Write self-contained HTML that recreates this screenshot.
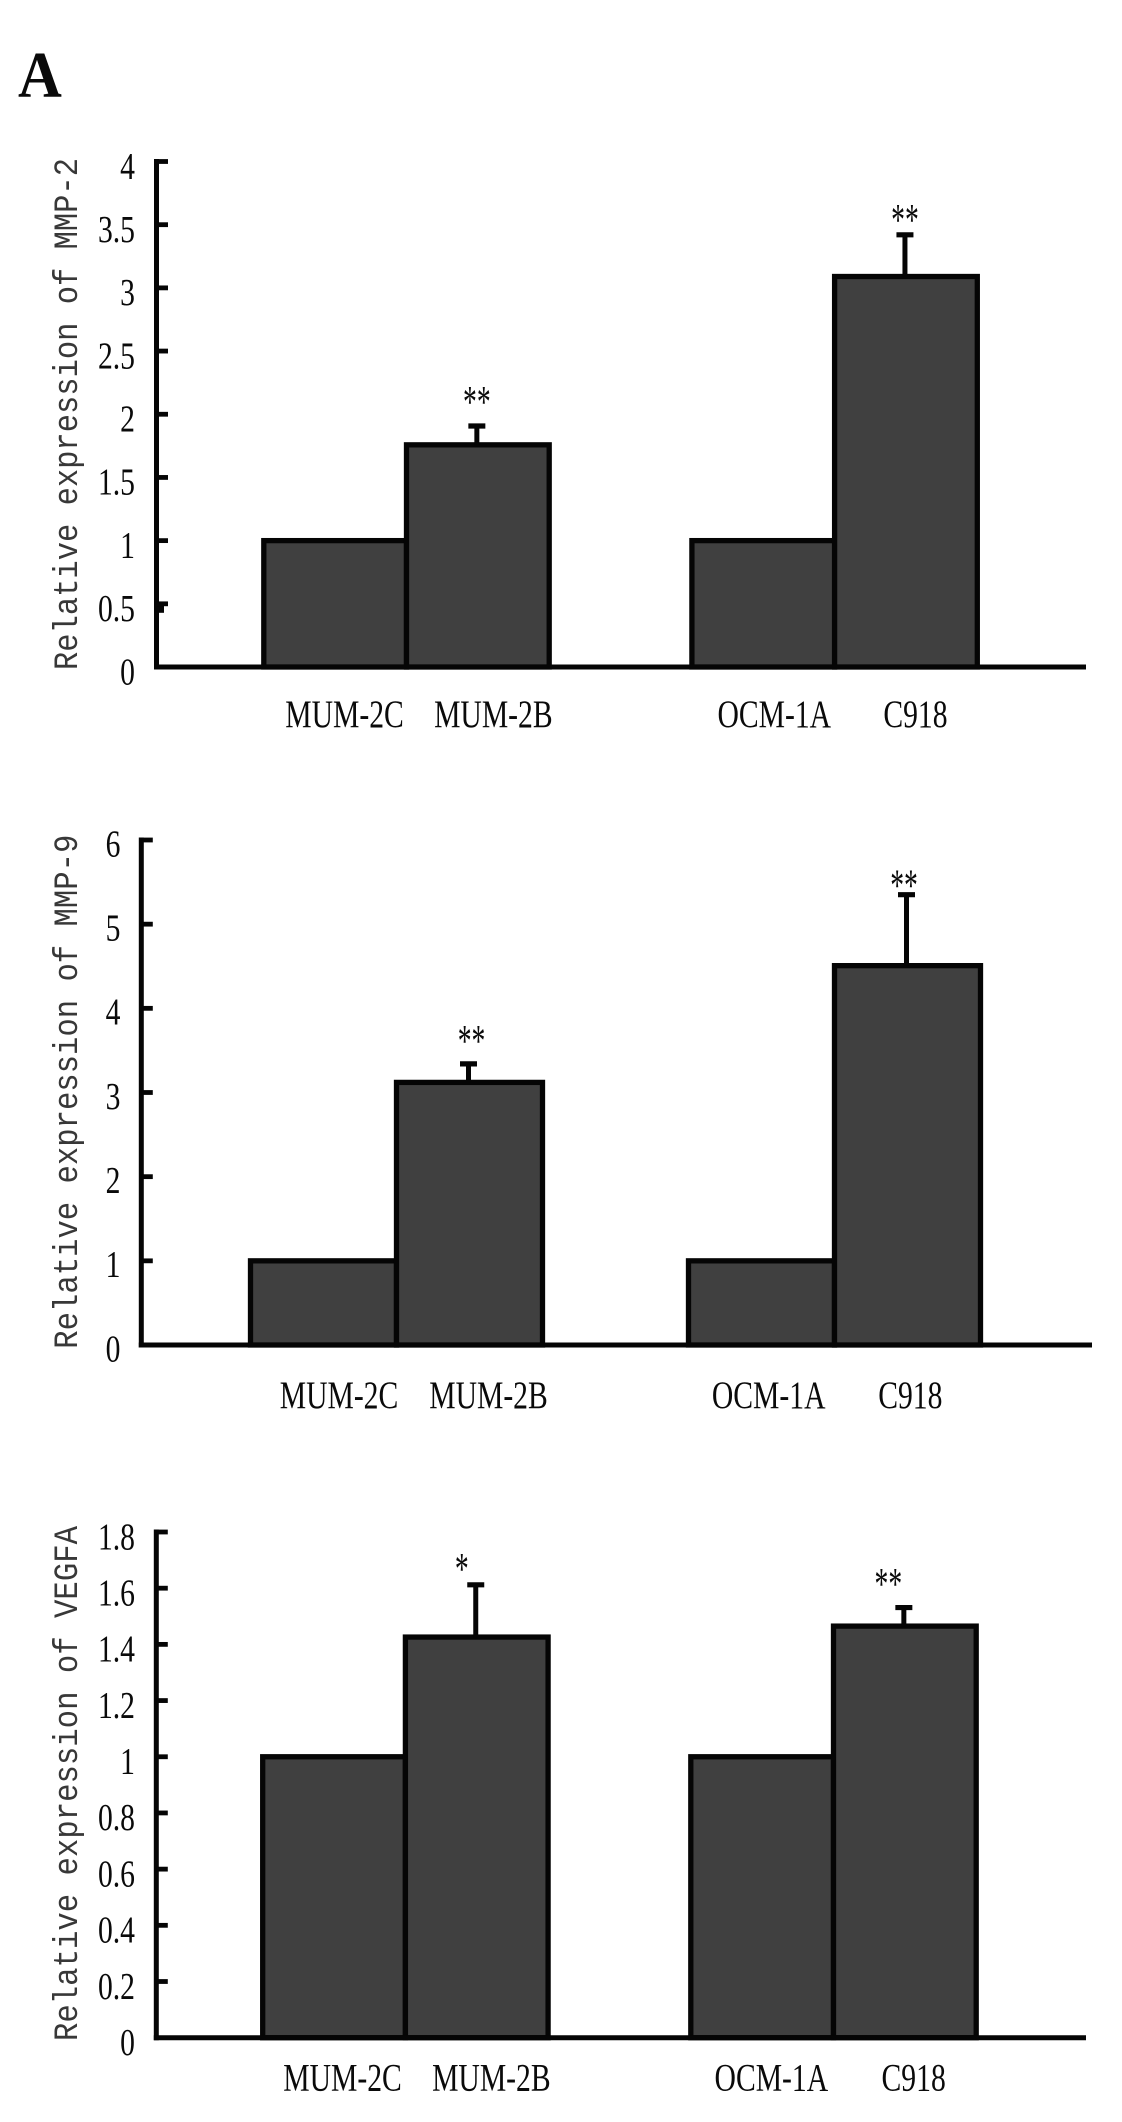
<!DOCTYPE html>
<html lang="en">
<head>
<meta charset="utf-8">
<title>Relative expression of MMP-2, MMP-9 and VEGFA</title>
<style>
  html, body { margin: 0; padding: 0; background: #fff; }
  svg { display: block; }
  .serif { font-family: "Liberation Serif", serif; fill: #0a0a0a; }
  .mono { font-family: "Liberation Mono", monospace; fill: #383838; }
</style>
</head>
<body>
<svg id="figure" xmlns="http://www.w3.org/2000/svg" width="1122" height="2122" viewBox="0 0 1122 2122">
  <rect width="1122" height="2122" fill="#ffffff"/>
  <text class="serif" font-weight="bold" font-size="66" transform="translate(18 97) scale(0.92 1)">A</text>
</svg>
<script>
// ---- chart data ----
const categories = ['MUM-2C', 'MUM-2B', 'OCM-1A', 'C918'];

const mmp2Title = 'Relative expression of MMP-2';
const mmp2Ticks = ['0', '0.5', '1', '1.5', '2', '2.5', '3', '3.5', '4'];
const mmp2Values = [1, 1.758, 1, 3.09];
const mmp2ErrorTops = [null, 1.907, null, 3.42];
const mmp2Significance = ['', '**', '', '**'];

const mmp9Title = 'Relative expression of MMP-9';
const mmp9Ticks = ['0', '1', '2', '3', '4', '5', '6'];
const mmp9Values = [1, 3.12, 1, 4.507];
const mmp9ErrorTops = [null, 3.34, null, 5.35];
const mmp9Significance = ['', '**', '', '**'];

const vegfaTitle = 'Relative expression of VEGFA';
const vegfaTicks = ['0', '0.2', '0.4', '0.6', '0.8', '1', '1.2', '1.4', '1.6', '1.8'];
const vegfaValues = [1, 1.426, 1, 1.465];
const vegfaErrorTops = [null, 1.612, null, 1.531];
const vegfaSignificance = ['', '*', '', '**'];

// ---- drawing ----
const SVG_NS = 'http://www.w3.org/2000/svg';
const figure = document.getElementById('figure');
const INK = '#050505';
const BAR_FILL = '#404040';
// Bars occupy slots 0,1 and 3,4 of five equal bands; slot 2 is the gap between groups.
const slotOf = [0, 1, 3, 4];

function drawLine(parent, x1, y1, x2, y2, width) {
  const line = document.createElementNS(SVG_NS, 'line');
  line.setAttribute('x1', x1);
  line.setAttribute('y1', y1);
  line.setAttribute('x2', x2);
  line.setAttribute('y2', y2);
  line.setAttribute('stroke', INK);
  line.setAttribute('stroke-width', width);
  parent.appendChild(line);
  return line;
}

function drawSerifText(parent, content, x, y, anchor, size, xScale) {
  const text = document.createElementNS(SVG_NS, 'text');
  text.setAttribute('class', 'serif');
  text.setAttribute('font-size', size);
  text.setAttribute('text-anchor', anchor);
  text.setAttribute('transform', 'translate(' + x + ' ' + y + ') scale(' + xScale + ' 1)');
  text.textContent = content;
  parent.appendChild(text);
  return text;
}

function drawPanel(name, title, ticks, values, errorTops, significance, layout) {
  const maxTick = parseFloat(ticks[ticks.length - 1]);
  const yScale = function (v) {
    return layout.baseY - (v / maxTick) * (layout.baseY - layout.topY);
  };
  const xLeft = function (i) {
    return layout.firstBarX + slotOf[i] * layout.band;
  };
  const xCenter = function (i) {
    return xLeft(i) + layout.band / 2;
  };

  const group = document.createElementNS(SVG_NS, 'g');
  
  
  figure.appendChild(group);

  // bars
  values.forEach(function (value, i) {
    const bar = document.createElementNS(SVG_NS, 'rect');
    
    
    bar.setAttribute('x', xLeft(i));
    bar.setAttribute('y', yScale(value));
    bar.setAttribute('width', layout.band);
    bar.setAttribute('height', layout.baseY - yScale(value));
    bar.setAttribute('fill', BAR_FILL);
    bar.setAttribute('stroke', INK);
    bar.setAttribute('stroke-width', '5.3');
    group.appendChild(bar);
  });

  // error bars and significance marks
  errorTops.forEach(function (top, i) {
    if (top === null) return;
    const stem = drawLine(group, xCenter(i) - 1, yScale(values[i]), xCenter(i) - 1, yScale(top), 5);
    
    
    const cap = drawLine(group, xCenter(i) - 9.5, yScale(top), xCenter(i) + 7.5, yScale(top), 5.2);
    
    
    const mark = drawSerifText(group, significance[i], xCenter(i) + layout.starDx[i], yScale(top) - layout.starGap[i], 'middle', 46, 0.6);
    
    
  });

  // axes
  const yAxis = drawLine(group, layout.axisX, layout.topY - 2.5, layout.axisX, layout.baseY + 2.5, 5);
  
  
  const xAxis = drawLine(group, layout.axisX - 2.5, layout.baseY, layout.axisEndX, layout.baseY, 5);
  
  

  // y ticks and tick labels
  ticks.forEach(function (label) {
    const y = yScale(parseFloat(label));
    if (parseFloat(label) > 0) {
      const tick = drawLine(group, layout.axisX, y, layout.axisX + 11.5, y, 4.8);
      
      
    }
    const tickLabel = drawSerifText(group, label, layout.tickLabelX, y + layout.tickLabelDy, 'end', 38, 0.78);
    
    
  });

  // x category labels
  categories.forEach(function (label, i) {
    const catLabel = drawSerifText(group, label, xCenter(i) + layout.labelDx[i], layout.labelY, 'middle', 39, 0.76);
    
    
  });

  // rotated y-axis title
  const axisTitle = document.createElementNS(SVG_NS, 'text');
  
  
  axisTitle.setAttribute('class', 'mono');
  axisTitle.setAttribute('font-size', '34');
  axisTitle.setAttribute('textLength', layout.titleLength);
  axisTitle.setAttribute('lengthAdjust', 'spacingAndGlyphs');
  axisTitle.setAttribute('transform', 'translate(77 ' + layout.titleY + ') rotate(-90)');
  axisTitle.textContent = title;
  group.appendChild(axisTitle);

  return { group: group, yScale: yScale };
}

const mmp2Panel = drawPanel('mmp2', mmp2Title, mmp2Ticks, mmp2Values, mmp2ErrorTops, mmp2Significance, {
  axisX: 156.5, axisEndX: 1086, topY: 161.5, baseY: 667,
  firstBarX: 263.8, band: 142.7, tickLabelX: 135, tickLabelDy: 17.3, labelY: 727,
  labelDx: [9.4, 15.5, 11, 9.5], starDx: [0, -1, 0, -1], starGap: [0, 9, 0, 0],
  titleY: 670, titleLength: 512
});
// small stray mark printed under the 0.5 tick of the top panel
const strayMark = drawLine(mmp2Panel.group, 161.5, mmp2Panel.yScale(0.5), 161.5, mmp2Panel.yScale(0.5) + 9, 5);



drawPanel('mmp9', mmp9Title, mmp9Ticks, mmp9Values, mmp9ErrorTops, mmp9Significance, {
  axisX: 141.3, axisEndX: 1092, topY: 840, baseY: 1345,
  firstBarX: 250.5, band: 146, tickLabelX: 120.5, tickLabelDy: 16.3, labelY: 1408,
  labelDx: [15.5, 19, 7.2, 2.8], starDx: [0, 2, 0, -3.5], starGap: [0, 8, 0, -6],
  titleY: 1348.7, titleLength: 514
});

drawPanel('vegfa', vegfaTitle, vegfaTicks, vegfaValues, vegfaErrorTops, vegfaSignificance, {
  axisX: 156.3, axisEndX: 1086, topY: 1532, baseY: 2037.7,
  firstBarX: 262.7, band: 142.7, tickLabelX: 135, tickLabelDy: 17.3, labelY: 2090.5,
  labelDx: [8.5, 14.6, 9.2, 8.8], starDx: [0, -15, 0, -16.5], starGap: [0, 1, 0, 8.5],
  titleY: 2041, titleLength: 515
});
</script>
</body>
</html>
